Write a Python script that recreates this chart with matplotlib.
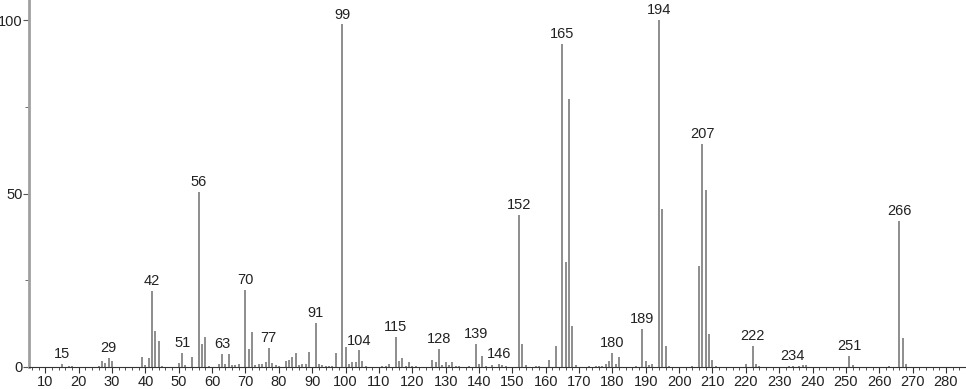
import matplotlib
matplotlib.use("Agg")
import matplotlib.pyplot as plt
from matplotlib.ticker import MultipleLocator

plt.rcParams["font.family"] = ["Liberation Sans", "DejaVu Sans"]

mz = [15, 17, 18, 26, 27, 28, 29, 30, 39, 40, 41, 42, 43, 44, 45, 50, 51, 52, 54,
      56, 57, 58, 59, 62, 63, 64, 65, 66, 67, 68, 70, 71, 72, 73, 74, 75, 76, 77,
      78, 79, 80, 82, 83, 84, 85, 86, 87, 88, 89, 91, 92, 93, 94, 95, 96, 97, 99,
      100, 101, 102, 103, 104, 105, 106, 111, 112, 113, 115, 116, 117, 118, 119,
      120, 121, 126, 127, 128, 129, 130, 131, 132, 133, 134, 137, 139, 140, 141,
      142, 144, 146, 147, 148, 152, 153, 154, 157, 158, 161, 163, 165, 166, 167,
      168, 169, 173, 175, 176, 177, 178, 179, 180, 181, 182, 187, 189, 190, 191,
      192, 194, 195, 196, 197, 204, 206, 207, 208, 209, 210, 211, 220, 222, 223,
      224, 233, 234, 236, 237, 238, 251, 252, 263, 266, 267, 268]
intensity = [0.8, 0.3, 0.3, 0.4, 1.7, 1.2, 2.7, 1.7, 3.0, 0.5, 2.7, 21.9, 10.5, 7.5,
             0.3, 1.2, 4.0, 0.7, 3.0, 50.5, 6.6, 8.6, 0.4, 0.8, 3.7, 1.0, 3.8, 0.5,
             0.5, 0.8, 22.2, 5.1, 10.1, 0.5, 0.8, 1.0, 1.5, 5.5, 1.2, 0.5, 0.3, 1.8,
             2.0, 2.9, 4.0, 0.7, 1.0, 1.0, 4.2, 12.8, 1.0, 0.5, 0.4, 0.4, 0.3, 4.0,
             98.8, 5.7, 0.8, 1.5, 1.5, 4.8, 1.7, 0.3, 0.3, 0.3, 1.0, 8.6, 1.7, 2.5,
             0.4, 1.5, 0.4, 0.3, 2.1, 1.5, 5.2, 0.7, 1.5, 0.7, 1.5, 0.4, 0.4, 0.3,
             6.7, 1.0, 3.2, 0.4, 0.6, 1.0, 0.5, 0.3, 43.8, 6.6, 0.7, 0.3, 0.3, 2.1,
             6.1, 93.2, 30.3, 77.4, 11.7, 0.7, 0.3, 0.3, 0.3, 0.3, 0.8, 1.7, 4.0, 1.0,
             2.8, 0.3, 10.9, 1.6, 0.5, 0.8, 100.0, 45.5, 6.0, 0.4, 0.3, 29.2, 64.3,
             51.0, 9.6, 2.1, 0.4, 0.8, 6.0, 0.9, 0.4, 0.3, 0.3, 0.3, 0.5, 0.5, 3.3,
             0.7, 0.3, 42.2, 8.3, 0.8]
labeled = [15, 29, 42, 51, 56, 63, 70, 77, 91, 99, 104, 115, 128, 139, 146, 152,
           165, 180, 189, 194, 207, 222, 234, 251, 266]
x_ticks = list(range(10, 290, 10))
y_ticks = [0, 50, 100]

W, H = 966, 389
fig = plt.figure(figsize=(W / 100, H / 100), dpi=100)
ax = fig.add_axes([29 / W, 22 / H, (W - 29) / W, 367 / H])

ax.vlines(mz, 0, intensity, colors="#858585", linewidth=1.3)

lookup = dict(zip(mz, intensity))
for m in labeled:
    ax.annotate(str(m), (m, lookup[m]), xytext=(0, 2), textcoords="offset points",
                ha="center", va="bottom", fontsize=10.5, color="#222222")

ax.set_xlim(5.1, 286)
ax.set_ylim(0, 105.8)

for s in ["top", "right"]:
    ax.spines[s].set_visible(False)
ax.spines["left"].set_color("#a0a0a0")
ax.spines["left"].set_linewidth(2)
ax.spines["bottom"].set_color("#333333")
ax.spines["bottom"].set_linewidth(0.8)

ax.set_xticks(x_ticks)
ax.set_xticklabels([str(t) for t in x_ticks])
ax.xaxis.set_minor_locator(MultipleLocator(2))
ax.set_yticks(y_ticks)
ax.set_yticklabels([str(t) for t in y_ticks])
ax.yaxis.set_minor_locator(MultipleLocator(25))

ax.tick_params(axis="x", which="major", direction="out", length=4, width=0.8,
               color="#333333", labelsize=10.5, pad=1.5, labelcolor="#222222")
ax.tick_params(axis="x", which="minor", direction="out", length=2, width=0.6,
               color="#333333")
ax.tick_params(axis="y", which="major", direction="out", length=4, width=0.8,
               color="#555555", labelsize=10.5, pad=0.5, labelcolor="#222222")
ax.tick_params(axis="y", which="minor", direction="out", length=3, width=0.6,
               color="#555555")

fig.savefig("out.png", dpi=100)
